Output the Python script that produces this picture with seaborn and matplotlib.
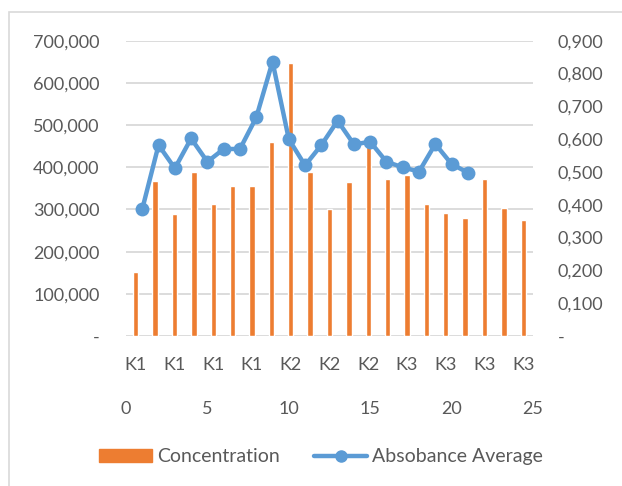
import seaborn as sns
import matplotlib.pyplot as plt
import matplotlib.patches as mpatches
from matplotlib.lines import Line2D
from matplotlib.ticker import FuncFormatter
import pandas as pd

# data
categories = ['K1'] * 8 + ['K2'] * 6 + ['K3'] * 7
concentration = [151000, 367000, 290000, 388000, 314000, 355000, 355000, 461000,
                 648000, 388000, 300000, 366000, 455000, 371000, 381000, 314000,
                 292000, 280000, 371000, 303000, 275000]
sample_no = list(range(1, 22))
absorbance = [0.387, 0.582, 0.511, 0.602, 0.531, 0.570, 0.570, 0.666, 0.836, 0.600,
              0.520, 0.582, 0.656, 0.584, 0.592, 0.531, 0.514, 0.501, 0.585, 0.524,
              0.498]
left_ticks = [0, 100000, 200000, 300000, 400000, 500000, 600000, 700000]
right_ticks = [0, 0.1, 0.2, 0.3, 0.4, 0.5, 0.6, 0.7, 0.8, 0.9]
top_ticks = [0, 5, 10, 15, 20, 25]

orange = '#ED7D31'
blue = '#5B9BD5'
grey_txt = '#595959'

sns.set_theme(style="white")
plt.rcParams['font.family'] = ['Lato', 'DejaVu Sans']
plt.rcParams['text.color'] = grey_txt
plt.rcParams['xtick.color'] = grey_txt
plt.rcParams['ytick.color'] = grey_txt

df = pd.DataFrame({'idx': range(len(categories)), 'conc': concentration})

fig = plt.figure(figsize=(6.22, 4.86), dpi=100)
pos = [126 / 622, 150 / 486, 407 / 622, 295.3 / 486]
ax = fig.add_axes(pos)
sns.barplot(data=df, x='idx', y='conc', color=orange, width=0.28, saturation=1,
            ax=ax, zorder=2)
ax.set_xlim(-0.5, len(categories) - 0.5)
ax.set_ylim(0, 700000)
ax.set_yticks(left_ticks)
ax.yaxis.set_major_formatter(FuncFormatter(lambda v, p: '-' if v == 0 else f'{int(v):,}'))
ax.set_xticks(range(0, len(categories), 2))
ax.set_xticklabels(categories[::2])
ax.tick_params(axis='y', length=0, pad=19, labelsize=13)
ax.tick_params(axis='x', length=0, pad=15, labelsize=13)
ax.grid(axis='y', color='#D9D9D9', linewidth=1.3, zorder=0)
ax.set_axisbelow(True)
for s in ax.spines.values():
    s.set_visible(False)
ax.set_xlabel('')
ax.set_ylabel('')

ax2 = fig.add_axes(pos, frameon=False)
sns.lineplot(x=sample_no, y=absorbance, color=blue, linewidth=3.2, marker='o',
             markersize=10, markeredgewidth=0, ax=ax2)
ax2.set_xlim(0, 25)
ax2.set_ylim(0, 0.9)
ax2.set_xticks(top_ticks)
ax2.set_yticks(right_ticks)
ax2.yaxis.tick_right()
ax2.yaxis.set_major_formatter(FuncFormatter(lambda v, p: '-' if v == 0 else f'{v:.3f}'.replace('.', ',')))
ax2.tick_params(axis='y', length=0, pad=18, labelsize=13)
ax2.tick_params(axis='x', length=0, pad=47, labelsize=13)
ax2.grid(False)
ax2.patch.set_visible(False)

handles = [mpatches.Patch(color=orange, label='Concentration'),
           Line2D([], [], color=blue, linewidth=3.2, marker='o', markersize=8,
                  label='Absobance Average')]
fig.legend(handles=handles, loc='center', bbox_to_anchor=(0.516, 0.06), ncol=2,
           frameon=False, fontsize=14, handlelength=2.7, handletextpad=0.25,
           columnspacing=1.8)

# chart frame (top and left edges visible)
fig.add_artist(mpatches.Rectangle((9 / 622, -0.1), 1.2, (486 - 12) / 486 + 0.1,
                                  transform=fig.transFigure, fill=False,
                                  edgecolor='#D9D9D9', linewidth=1.2))

fig.savefig('out.png', dpi=100, facecolor='white')
